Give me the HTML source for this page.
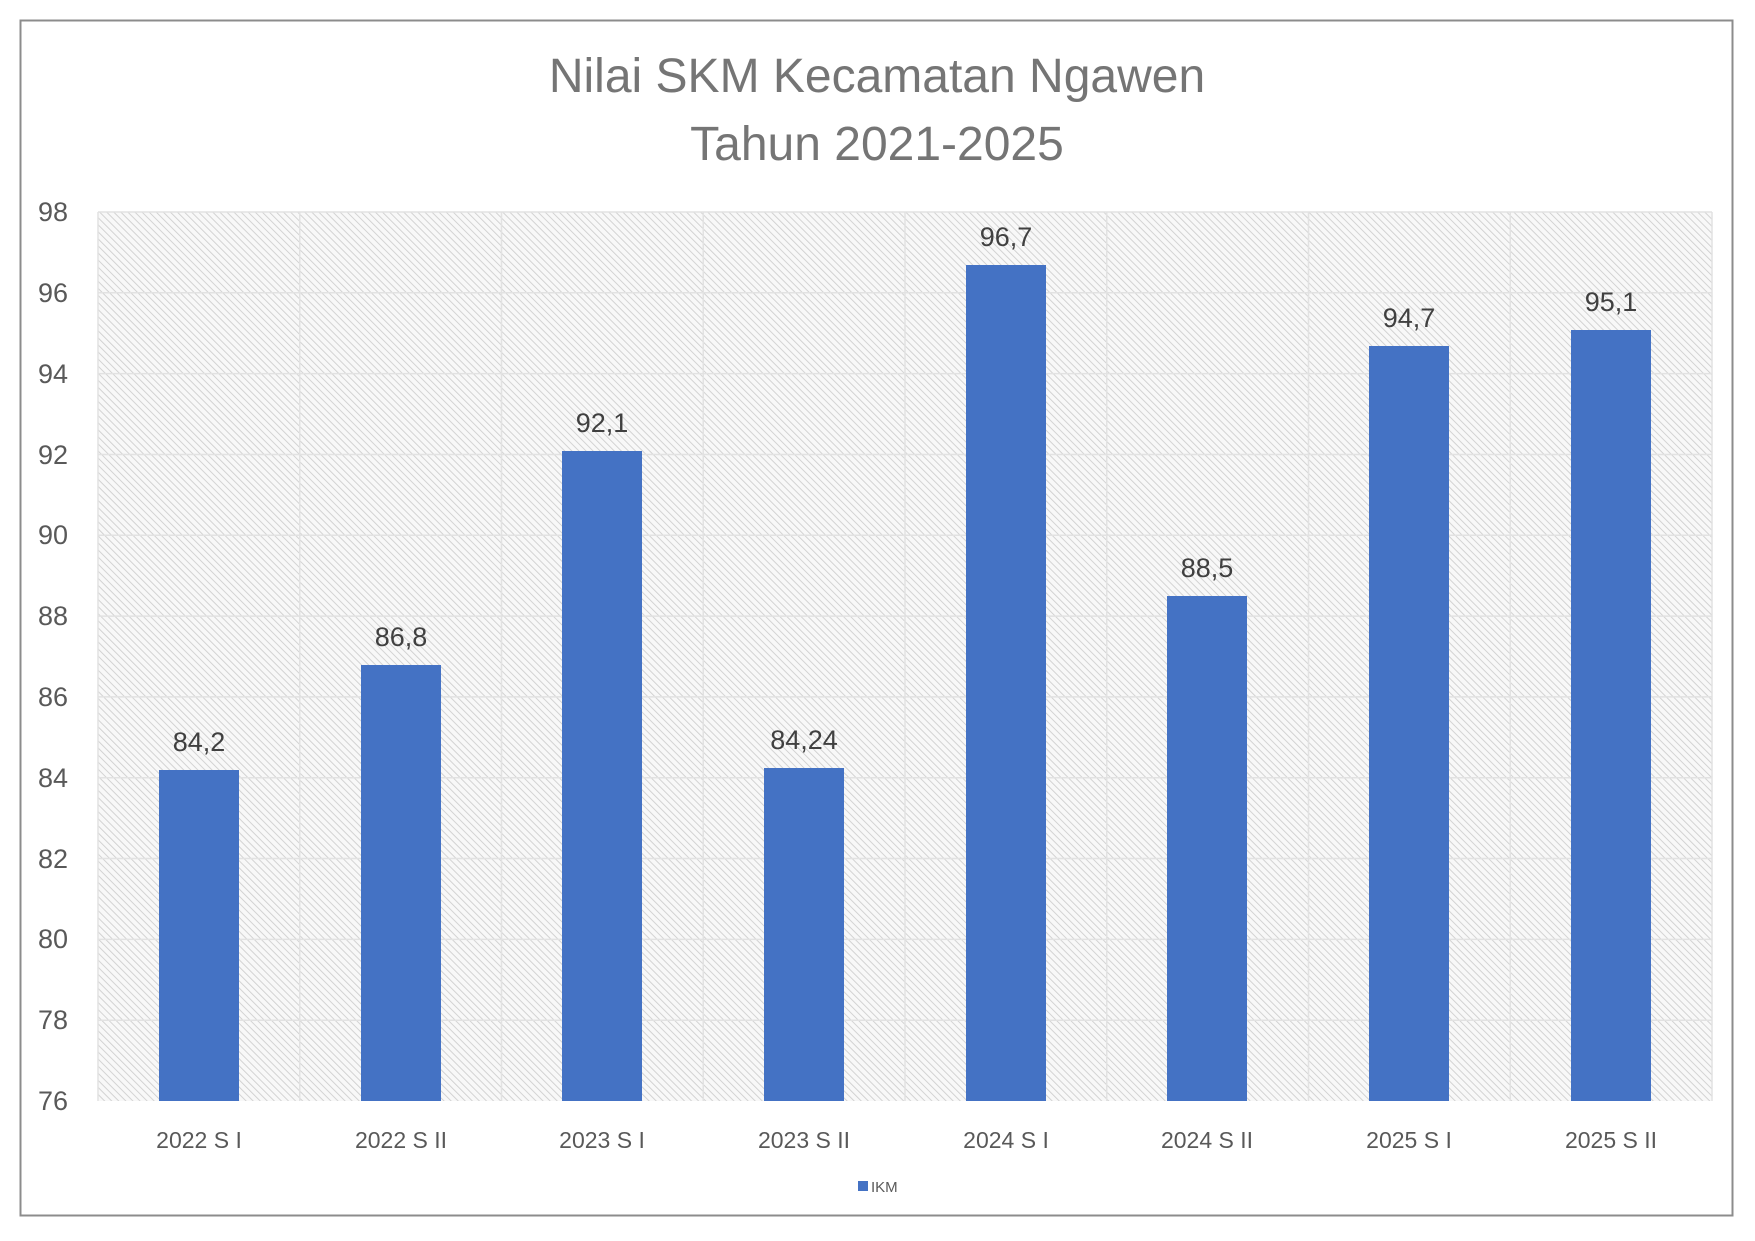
<!DOCTYPE html>
<html><head><meta charset="utf-8"><style>
html,body{margin:0;padding:0;background:#fff;}
svg{display:block;font-family:"Liberation Sans",sans-serif;}
</style></head><body>
<svg width="1755" height="1241" viewBox="0 0 1755 1241" xmlns="http://www.w3.org/2000/svg">
<defs>
<pattern id="h" width="5" height="5" patternUnits="userSpaceOnUse" patternTransform="rotate(-45)">
<rect width="5" height="5" fill="#f8f8f8"/>
<line x1="0" y1="0" x2="0" y2="5" stroke="#cfcfcf" stroke-width="1.8"/>
</pattern>
</defs>
<rect x="0" y="0" width="1755" height="1241" fill="#fff"/>
<rect x="20.5" y="20.5" width="1712" height="1195" fill="#fff" stroke="#8c8c8c" stroke-width="2"/>
<text x="877" y="92" text-anchor="middle" font-size="48" fill="#757575">Nilai SKM Kecamatan Ngawen</text>
<text x="877" y="160" text-anchor="middle" font-size="48" fill="#757575">Tahun 2021-2025</text>
<rect x="98" y="212" width="1614" height="889" fill="url(#h)"/>
<g stroke="#e2e2e2" stroke-width="1.5">
<line x1="98" y1="212" x2="1712" y2="212"/><line x1="98" y1="292.8" x2="1712" y2="292.8"/>
<line x1="98" y1="373.6" x2="1712" y2="373.6"/><line x1="98" y1="454.5" x2="1712" y2="454.5"/>
<line x1="98" y1="535.3" x2="1712" y2="535.3"/><line x1="98" y1="616.1" x2="1712" y2="616.1"/>
<line x1="98" y1="696.9" x2="1712" y2="696.9"/><line x1="98" y1="777.7" x2="1712" y2="777.7"/>
<line x1="98" y1="858.5" x2="1712" y2="858.5"/><line x1="98" y1="939.4" x2="1712" y2="939.4"/>
<line x1="98" y1="1020.2" x2="1712" y2="1020.2"/>
<line x1="98" y1="212" x2="98" y2="1101"/><line x1="299.75" y1="212" x2="299.75" y2="1101"/>
<line x1="501.5" y1="212" x2="501.5" y2="1101"/><line x1="703.25" y1="212" x2="703.25" y2="1101"/>
<line x1="905" y1="212" x2="905" y2="1101"/><line x1="1106.75" y1="212" x2="1106.75" y2="1101"/>
<line x1="1308.5" y1="212" x2="1308.5" y2="1101"/><line x1="1510.25" y1="212" x2="1510.25" y2="1101"/>
<line x1="1712" y1="212" x2="1712" y2="1101"/>
</g>
<g font-size="27" fill="#595959" text-anchor="end">
<text x="68" y="221">98</text><text x="68" y="302">96</text><text x="68" y="383">94</text>
<text x="68" y="464">92</text><text x="68" y="544">90</text><text x="68" y="625">88</text>
<text x="68" y="706">86</text><text x="68" y="787">84</text><text x="68" y="868">82</text>
<text x="68" y="948">80</text><text x="68" y="1029">78</text><text x="68" y="1110">76</text>
</g>
<g fill="#4472c4">
<rect x="159" y="770" width="80" height="331"/>
<rect x="361" y="665" width="80" height="436"/>
<rect x="562" y="451" width="80" height="650"/>
<rect x="764" y="768" width="80" height="333"/>
<rect x="966" y="265" width="80" height="836"/>
<rect x="1167" y="596" width="80" height="505"/>
<rect x="1369" y="346" width="80" height="755"/>
<rect x="1571" y="330" width="80" height="771"/>
</g>
<g font-size="27" fill="#404040" text-anchor="middle">
<text x="199" y="751">84,2</text><text x="401" y="646">86,8</text><text x="602" y="432">92,1</text>
<text x="804" y="749">84,24</text><text x="1006" y="246">96,7</text><text x="1207" y="577">88,5</text>
<text x="1409" y="327">94,7</text><text x="1611" y="311">95,1</text>
</g>
<g font-size="23" fill="#595959" text-anchor="middle">
<text x="199" y="1148">2022 S I</text><text x="401" y="1148">2022 S II</text><text x="602" y="1148">2023 S I</text>
<text x="804" y="1148">2023 S II</text><text x="1006" y="1148">2024 S I</text><text x="1207" y="1148">2024 S II</text>
<text x="1409" y="1148">2025 S I</text><text x="1611" y="1148">2025 S II</text>
</g>
<rect x="858" y="1181" width="10" height="10" fill="#4472c4"/>
<text x="871" y="1192" font-size="15" fill="#595959">IKM</text>
</svg>
</body></html>
